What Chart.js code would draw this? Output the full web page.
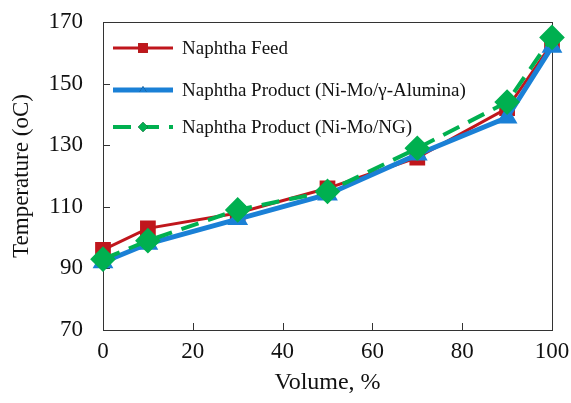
<!DOCTYPE html>
<html>
<head>
<meta charset="utf-8">
<script src="https://cdn.jsdelivr.net/npm/chart.js@4.4.1/dist/chart.umd.min.js"></script>
<style>
    html, body { margin: 0; padding: 0; background: #fff; }
    #wrap { width: 571px; height: 403px; }
</style>
</head>
<body>
<div id="wrap"><canvas id="tempChart" width="571" height="403"></canvas></div>
<script>
// data
const volume = [0, 10, 30, 50, 70, 90, 100]
const naphthaFeed = [96, 103, 108, 116, 126, 142, 163]
const productAlumina = [92, 98, 106, 114, 127, 139, 162]
const productNG = [93, 99, 109, 115, 129, 144, 165]
const seriesNames = [
    `Naphtha Feed`,
    `Naphtha Product (Ni-Mo/γ-Alumina)`,
    `Naphtha Product (Ni-Mo/NG)`
]
const xTicks = [0, 20, 40, 60, 80, 100]
const yTicks = [70, 90, 110, 130, 150, 170]
//
const serif = `"Liberation Serif", "Times New Roman", serif`
const axisColor = `#333`

function toPoints(values) {
    return values.map((v, i) => ({ x: volume[i], y: v }))
}

// frame, inward ticks and legend inside the plot
const framePlugin = {
    id: `frame`,
    beforeDatasetsDraw(chart) {
        const { ctx, chartArea: a, scales } = chart
        ctx.save()
        ctx.strokeStyle = axisColor
        ctx.lineWidth = 1
        ctx.strokeRect(a.left + 0.5, a.top + 0.5, a.right - a.left, a.bottom - a.top)
        ctx.beginPath()
        xTicks.forEach(t => {
            const px = Math.round(scales.x.getPixelForValue(t)) + 0.5
            ctx.moveTo(px, a.bottom)
            ctx.lineTo(px, a.bottom - 7)
        })
        yTicks.forEach(t => {
            const py = Math.round(scales.y.getPixelForValue(t)) + 0.5
            ctx.moveTo(a.left, py)
            ctx.lineTo(a.left + 7, py)
        })
        ctx.stroke()
        ctx.restore()
    },
    afterDraw(chart) {
        const { ctx, chartArea: a } = chart
        const rows = [a.top + 26, a.top + 68, a.top + 105]
        ctx.save()
        chart.data.datasets.forEach((ds, i) => {
            const y = rows[i]
            const x0 = a.left + 10
            const x1 = a.left + 70
            ctx.strokeStyle = ds.borderColor
            ctx.lineWidth = ds.borderWidth
            ctx.setLineDash(ds.borderDash || [])
            ctx.beginPath()
            ctx.moveTo(x0, y)
            ctx.lineTo(x1, y)
            ctx.stroke()
            ctx.setLineDash([])
            Chart.helpers.drawPoint(ctx, {
                pointStyle: ds.pointStyle,
                radius: ds.legendRadius,
                borderWidth: 0
            }, (x0 + x1) / 2, y)
            ctx.fillStyle = ds.backgroundColor
            ctx.fill()
            ctx.fillStyle = `#111`
            ctx.font = `19px ${serif}`
            ctx.textBaseline = `middle`
            ctx.fillText(ds.label, a.left + 79, y + 1)
        })
        ctx.restore()
    }
}

new Chart(`tempChart`, {
    type: `line`,
    data: {
        datasets: [{
            label: seriesNames[0],
            data: toPoints(naphthaFeed),
            borderColor: `#C0161C`,
            backgroundColor: `#C0161C`,
            borderWidth: 3,
            pointStyle: `rect`,
            pointRadius: 9,
            legendRadius: 7,
            order: 2
        }, {
            label: seriesNames[1],
            data: toPoints(productAlumina),
            borderColor: `#1A80D6`,
            backgroundColor: `#1A80D6`,
            borderWidth: 5,
            pointStyle: `triangle`,
            pointRadius: 7,
            legendRadius: 4,
            order: 1
        }, {
            label: seriesNames[2],
            data: toPoints(productNG),
            borderColor: `#00B050`,
            backgroundColor: `#00B050`,
            borderWidth: 4,
            borderDash: [18, 10],
            pointStyle: `rectRot`,
            pointRadius: 10,
            legendRadius: 5,
            order: 0
        }]
    },
    options: {
        responsive: false,
        animation: false,
        clip: false,
        layout: { padding: { top: 22, right: 19, left: 0, bottom: 0 } },
        elements: {
            line: { tension: 0 },
            point: { borderWidth: 0, hoverRadius: 9 }
        },
        plugins: {
            legend: { display: false },
            tooltip: { enabled: false }
        },
        scales: {
            x: {
                type: `linear`,
                min: 0,
                max: 100,
                afterBuildTicks: s => { s.ticks = xTicks.map(v => ({ value: v })) },
                afterFit: s => {
                    s.height = 73
                    s.paddingLeft = 0
                    s.paddingRight = 0
                },
                grid: { display: false, drawTicks: false },
                border: { display: false },
                ticks: { color: `#111`, font: { family: serif, size: 23 }, padding: 8, maxRotation: 0 },
                title: {
                    display: true,
                    text: `Volume, %`,
                    color: `#111`,
                    font: { family: serif, size: 24 },
                    padding: { top: 0, bottom: 6 }
                }
            },
            y: {
                min: 70,
                max: 170,
                afterBuildTicks: s => { s.ticks = yTicks.map(v => ({ value: v })) },
                afterFit: s => {
                    s.width = 103
                    s.paddingTop = 0
                    s.paddingBottom = 0
                },
                grid: { display: false, drawTicks: false },
                border: { display: false },
                ticks: { color: `#111`, font: { family: serif, size: 23 }, padding: 20 },
                title: {
                    display: true,
                    text: `Temperature (oC)`,
                    color: `#111`,
                    font: { family: serif, size: 23 },
                    padding: { top: 8, bottom: 0 }
                }
            }
        }
    },
    plugins: [framePlugin]
})
</script>
</body>
</html>
